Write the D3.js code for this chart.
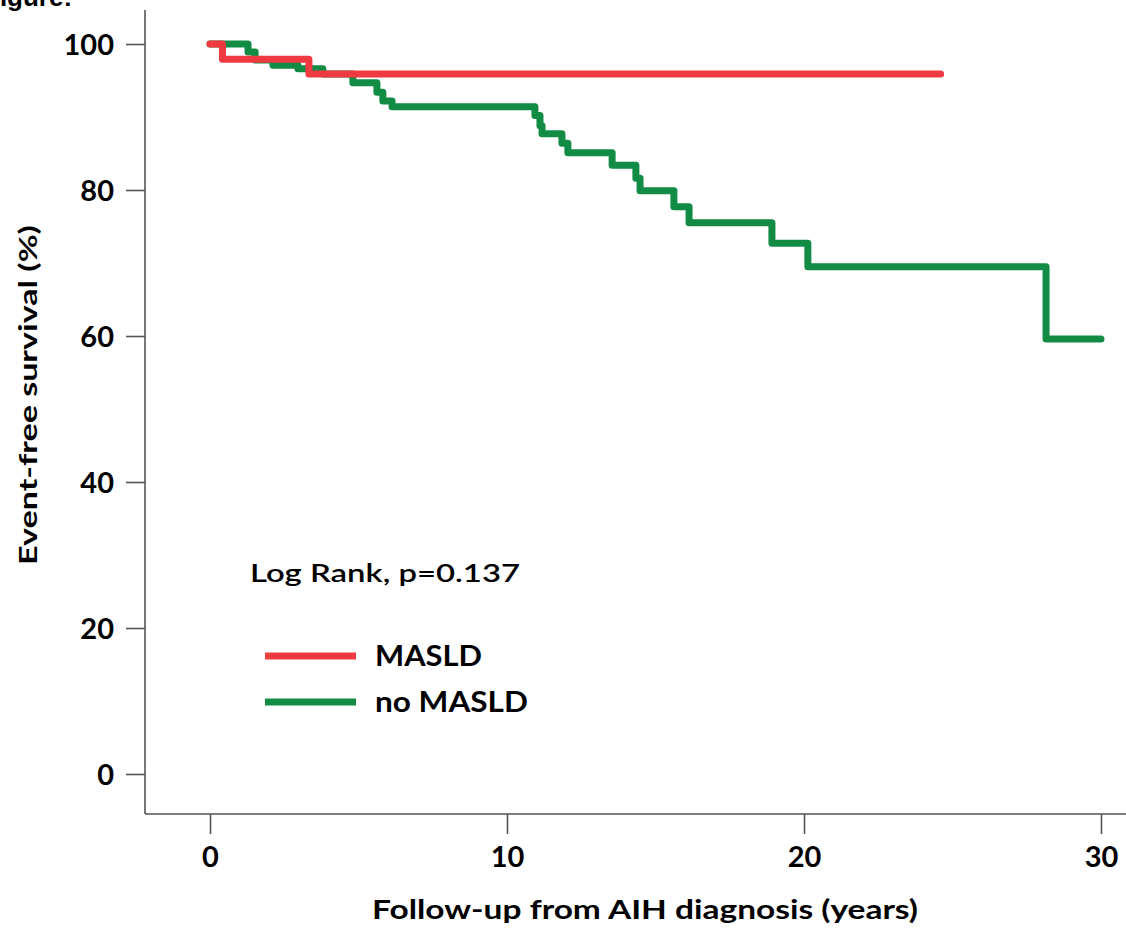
<!DOCTYPE html>
<html>
<head>
<meta charset="utf-8">
<script src="https://cdn.jsdelivr.net/npm/d3@7"></script>
<style>
  html, body { margin: 0; padding: 0; background: #fff; }
  svg { display: block; }
  text { font-family: Lato, "Open Sans", sans-serif; fill: #000; }
</style>
</head>
<body>
<svg id="chart" width="1126" height="934"></svg>
<script>
// ---- data ----
const groups = ["MASLD", "no MASLD"];
const colors = ["#EE3A40", "#128C45"];

// Kaplan–Meier step points: time (years) where the survival level starts
const maslTimes    = [0, 0.42, 3.33, 24.6];
const maslSurvival = [100, 97.9, 95.9, 95.9];

const noMaslTimes    = [0, 1.28, 1.52, 2.12, 2.96, 3.80, 4.81, 5.62, 5.82, 6.13,
                        10.94, 11.11, 11.18, 11.85, 12.05, 13.54, 14.34, 14.48,
                        15.62, 16.13, 18.92, 20.13, 28.15, 30.0];
const noMaslSurvival = [100, 98.9, 97.8, 97.1, 96.6, 95.9, 94.7, 93.4, 92.2, 91.4,
                        90.2, 88.8, 87.7, 86.4, 85.1, 83.4, 81.6, 79.9,
                        77.7, 75.5, 72.7, 69.5, 59.6, 59.6];

const xTicks = [0, 10, 20, 30];
const yTicks = [0, 20, 40, 60, 80, 100];
const xTitle = "Follow-up from AIH diagnosis (years)";
const yTitle = "Event-free survival (%)";
const annotation = "Log Rank, p=0.137";

// ---- drawing ----
const svg = d3.select("#chart");
const x = d3.scaleLinear().domain([0, 30]).range([210, 1101]);
const y = d3.scaleLinear().domain([0, 100]).range([774, 44]);

const axisColor = "#555";

// cropped figure caption at top-left
svg.append("text")
  .attr("x", -16).attr("y", 6)
  .style("font-family", "Liberation Sans, Arial, sans-serif")
  .style("font-weight", "bold").style("font-size", "26px")
  .text("Figure:");

// axis lines
svg.append("line").attr("x1", 145).attr("x2", 145).attr("y1", 10).attr("y2", 814)
  .attr("stroke", axisColor).attr("stroke-width", 1.6);
svg.append("line").attr("x1", 145).attr("x2", 1126).attr("y1", 814).attr("y2", 814)
  .attr("stroke", axisColor).attr("stroke-width", 1.6);

// y axis ticks
const yAxis = svg.append("g").attr("transform", "translate(145,0)")
  .call(d3.axisLeft(y).tickValues(yTicks).tickSize(19).tickPadding(12).tickFormat(d3.format("d")));
yAxis.select(".domain").remove();
yAxis.selectAll(".tick line").attr("stroke", axisColor).attr("stroke-width", 1.6);
yAxis.selectAll(".tick text")
  .style("font-family", "Lato, sans-serif").style("font-weight", "bold").style("font-size", "29px")
  .attr("fill", "#000").attr("dy", "0.36em");

// x axis ticks
const xAxis = svg.append("g").attr("transform", "translate(0,814)")
  .call(d3.axisBottom(x).tickValues(xTicks).tickSize(20).tickPadding(12).tickFormat(d3.format("d")));
xAxis.select(".domain").remove();
xAxis.selectAll(".tick line").attr("stroke", axisColor).attr("stroke-width", 1.6);
xAxis.selectAll(".tick text")
  .style("font-family", "Lato, sans-serif").style("font-weight", "bold").style("font-size", "29px")
  .attr("fill", "#000").attr("dy", "0.71em");

// axis titles
svg.append("text")
  .attr("x", 645).attr("y", 919)
  .attr("text-anchor", "middle")
  .attr("textLength", 546).attr("lengthAdjust", "spacingAndGlyphs")
  .style("font-weight", "bold").style("font-size", "26px")
  .text(xTitle);

svg.append("text")
  .attr("transform", "translate(37,395) rotate(-90)")
  .attr("text-anchor", "middle")
  .attr("textLength", 340).attr("lengthAdjust", "spacingAndGlyphs")
  .style("font-weight", "bold").style("font-size", "25px")
  .text(yTitle);

// survival curves
const line = d3.line().curve(d3.curveStepAfter).x(d => x(d[0])).y(d => y(d[1]));
const series = [
  d3.zip(maslTimes, maslSurvival),
  d3.zip(noMaslTimes, noMaslSurvival)
];
// draw green first, then red on top
[1, 0].forEach(i => {
  svg.append("path")
    .datum(series[i])
    .attr("d", line)
    .attr("fill", "none")
    .attr("stroke", colors[i])
    .attr("stroke-width", 7)
    .attr("stroke-linejoin", "round")
    .attr("stroke-linecap", "round");
});

// annotation
svg.append("text")
  .attr("x", 250).attr("y", 582)
  .attr("textLength", 270).attr("lengthAdjust", "spacingAndGlyphs")
  .style("font-weight", "600").style("font-size", "25px")
  .text(annotation);

// legend
const legendY = [656, 702];
const legendTextLen = [107, 153];
groups.forEach((g, i) => {
  svg.append("line")
    .attr("x1", 265).attr("x2", 356)
    .attr("y1", legendY[i]).attr("y2", legendY[i])
    .attr("stroke", colors[i]).attr("stroke-width", 7);
  svg.append("text")
    .attr("x", 375).attr("y", legendY[i] + 10)
    .attr("textLength", legendTextLen[i]).attr("lengthAdjust", "spacingAndGlyphs")
    .style("font-weight", "bold").style("font-size", "28px")
    .text(g);
});
</script>
</body>
</html>
